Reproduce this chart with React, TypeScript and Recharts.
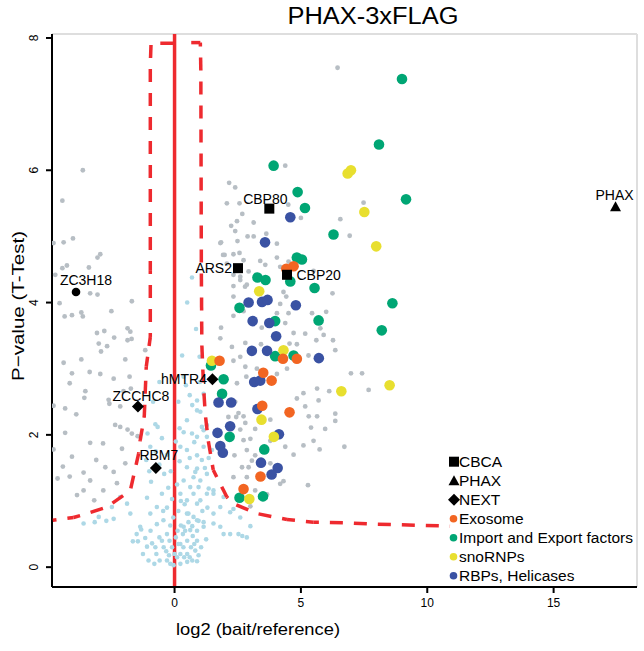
import React from 'react';
import { ComposedChart, Scatter, XAxis, YAxis, ReferenceLine } from 'recharts';

// Colores del gráfico original
const RED = '#ee2a2f';
const GRAY = '#b7bec4';
const LIGHT_BLUE = '#add8e6';
const ORANGE = '#f26522';
const GREEN = '#00a674';
const YELLOW = '#e8df2f';
const BLUE = '#3a52a3';
const FONT = '"Liberation Sans", Arial, Helvetica, sans-serif';

// Ejes
const xDomain = [-4.85, 18.3];
const yDomain = [-0.3, 8.06];
const xTicks = [0, 5, 10, 15];
const yTicks = [0, 2, 4, 6, 8];

// Curvas de corte
const leftCurve = [
  [-0.05, 7.92], [-0.93, 7.92], [-0.96, 7.6], [-0.96, 4.49], [-0.96, 3.48], [-1.12, 3.03],
  [-1.2, 2.27], [-1.36, 1.92], [-1.42, 1.72], [-1.75, 1.16], [-2.67, 0.91], [-3.47, 0.81],
  [-4.0, 0.75], [-4.82, 0.71],
];
const rightCurve = [
  [0.66, 7.93], [1.02, 7.93], [1.04, 7.5], [1.06, 4.5], [1.08, 3.36], [1.14, 2.79],
  [1.21, 2.33], [1.33, 1.92], [1.53, 1.47], [2.07, 1.06], [2.32, 0.96], [3.26, 0.81],
  [4.45, 0.72], [5.49, 0.68], [6.82, 0.67], [8.01, 0.65], [10.9, 0.62],
];

// Proteínas no significativas
const lightBlue = [
  [0.69, 4.38], [0.36, 2.88], [0.99, 3.18], [1.15, 2.62], [0.89, 2.37], [0.49, 2.22],
  [0.36, 2.04], [0.69, 2.02], [0.89, 1.97], [1.28, 2.15], [1.15, 2.07], [0.23, 1.82],
  [0.49, 1.77], [0.78, 1.89], [1.15, 1.82], [0.89, 1.69], [0.49, 1.51], [0.89, 1.49],
  [1.08, 1.62], [0.36, 1.31], [0.75, 1.36], [1.02, 1.31], [1.28, 1.41], [0.23, 1.11],
  [0.49, 1.01], [0.75, 1.11], [1.02, 1.01], [1.28, 1.11], [1.54, 1.16], [0.55, 0.81],
  [0.89, 0.71], [0.36, 0.61], [1.15, 0.61], [1.54, 0.81], [1.81, 0.91],
  [0.89, 2.52], [1.02, 2.35], [1.08, 2.12], [1.28, 1.97], [1.48, 1.77], [0.82, 1.44],
  [0.62, 1.21], [0.95, 1.21], [1.35, 1.19], [1.54, 1.11], [1.94, 1.06], [0.49, 0.81],
  [0.89, 0.96], [0.75, 0.76], [0.62, 0.56], [1.15, 0.68], [1.54, 0.66], [1.81, 0.61],
  [2.2, 0.83], [2.33, 0.88], [1.94, 0.5], [2.2, 0.5], [2.86, 0.45], [2.53, 0.5],
  [2.6, 0.75], [3.0, 0.62], [2.68, 0.47],
  [-0.76, 2.16], [-0.67, 2.12], [-1.07, 2.02], [-0.96, 1.82], [-1.12, 1.62], [-0.41, 1.41],
  [-0.93, 1.29], [-0.5, 1.11], [-1.09, 1.05], [-0.1, 1.03], [-1.88, 0.96], [-2.48, 0.91],
  [-2.15, 1.06], [-3.0, 0.76], [-2.41, 0.73], [-1.75, 0.81], [-0.96, 0.81], [-0.7, 0.91],
  [-0.44, 0.71], [-1.36, 0.61], [-3.6, 0.66], [-3.16, 0.68], [-2.7, 0.7],
  [-1.32, 0.57], [-0.7, 0.65], [-1.16, 0.44], [-1.65, 0.39], [-1.45, 0.39], [-1.09, 0.31],
  [-0.89, 0.36], [-0.76, 0.3], [-0.72, 0.2], [-0.5, 0.4], [-0.43, 0.3], [-0.33, 0.24],
  [-1.03, 0.1], [-0.59, 0.1], [-0.3, 0.1], [-0.17, 0.05], [-0.04, 0.03], [0.23, 0.05],
  [0.5, 0.08], [0.7, 0.1], [0.89, 0.09], [0.23, 0.2], [0.5, 0.2], [0.82, 0.25],
  [0.23, 0.35], [0.5, 0.4], [0.89, 0.4], [0.33, 0.5], [-0.17, 0.63], [0.25, 0.63],
  [0.55, 0.68], [0.89, 0.55], [-0.3, 0.5], [0.05, 0.45], [-0.1, 0.3], [0.1, 0.15],
  [0.65, 0.3], [0.38, 0.15], [-0.22, 0.18], [0.12, 0.55], [0.72, 0.47], [1.05, 0.3],
  [1.25, 0.42], [0.95, 0.18], [-0.45, 0.85], [0.15, 0.85], [0.4, 0.95], [-0.25, 1.2],
  [0.1, 1.25], [-0.6, 1.55], [-0.3, 1.7], [0.05, 1.9], [-0.5, 1.95], [-0.85, 2.5],
  [-0.6, 2.8], [0.6, 2.6], [0.3, 3.2], [0.85, 3.6], [0.5, 4.0], [0.15, 2.5],
  [-1.5, 0.5], [-1.25, 0.2], [-0.95, 0.55], [-0.8, 0.05], [-0.6, 0.45], [-0.2, 0.4],
  [0.0, 0.2], [0.15, 0.35], [0.35, 0.3], [0.6, 0.15], [0.78, 0.35], [0.42, 0.55],
  [0.7, 0.62], [0.95, 0.7], [1.1, 0.85], [1.3, 0.9], [-0.05, 0.75], [-0.3, 0.9],
  [0.25, 1.0], [-0.15, 1.45], [0.2, 1.6], [0.6, 1.65], [1.2, 1.5], [1.35, 1.65],
  [0.7, 2.45], [0.45, 2.75], [1.0, 2.8], [0.2, 2.1], [-0.75, 1.75], [-1.0, 1.45],
];

// Proteínas significativas sin anotar
const gray = [
  [-3.63, 6.0], [-4.44, 5.54], [-4.79, 4.9], [-4.39, 4.91], [-4.02, 4.97], [-2.94, 4.73],
  [-3.05, 4.68], [-4.26, 4.56], [-4.44, 4.52], [-3.39, 4.53], [-4.72, 4.42],
  [-4.55, 3.99], [-4.35, 3.79], [-4.06, 3.81], [-3.69, 3.85], [-3.63, 3.79], [-3.34, 4.14],
  [-3.05, 4.12], [-2.5, 3.87], [-1.69, 4.02], [-3.07, 3.54], [-2.78, 3.57], [-3.0, 3.38],
  [-2.39, 3.47], [-1.86, 3.61], [-1.75, 3.56], [-1.86, 3.43], [-1.7, 3.45], [-1.16, 3.28],
  [-2.91, 3.26], [-2.67, 3.34], [-3.69, 3.14], [-4.39, 3.09], [-1.95, 3.14], [-4.06, 2.93],
  [-4.15, 2.78], [-3.36, 2.95], [-2.94, 2.92], [-2.41, 2.85], [-1.78, 2.88], [-1.73, 2.7],
  [-2.02, 2.66], [-3.53, 2.66], [-3.57, 2.56], [-2.61, 2.53], [-2.58, 2.47], [-2.15, 2.43],
  [-4.79, 2.44], [-4.33, 2.4], [-3.89, 2.31], [-2.35, 2.15], [-1.86, 2.08], [-2.15, 2.12],
  [-1.69, 2.02], [-1.46, 1.98], [-4.33, 2.03], [-3.34, 1.88], [-2.83, 1.87], [-2.08, 1.79],
  [-4.79, 1.78], [-4.06, 1.67], [-4.42, 1.52], [-3.1, 1.62], [-3.6, 1.43], [-2.74, 1.51],
  [-2.41, 1.44], [-1.95, 1.57], [-4.63, 1.34], [-4.15, 1.37], [-3.34, 1.31], [-3.6, 1.16],
  [-3.86, 1.09], [-2.82, 1.16], [-3.18, 1.01], [-2.28, 1.27],
  [2.16, 5.81], [2.4, 5.74], [2.07, 5.5], [2.57, 5.5], [2.68, 5.34], [2.47, 5.23],
  [2.24, 5.16], [2.4, 5.08], [3.13, 5.21], [2.89, 5.0], [3.13, 5.0], [1.84, 4.91],
  [2.49, 4.93], [2.33, 4.73], [2.57, 4.75], [1.98, 4.72], [2.73, 4.64], [2.07, 4.59],
  [2.93, 4.47], [2.33, 4.42], [2.6, 4.39], [4.38, 6.07], [6.45, 7.55], [7.48, 5.51],
  [6.56, 5.26], [6.93, 5.01], [4.5, 5.48], [5.0, 5.28], [3.63, 5.04], [4.05, 4.89],
  [1.81, 4.9], [1.92, 4.72], [3.39, 4.63], [4.05, 4.68], [4.51, 4.62], [3.59, 4.57],
  [4.18, 4.54], [5.5, 4.48], [2.6, 4.34], [2.86, 4.27], [2.33, 4.25], [2.79, 4.24],
  [4.31, 4.16], [4.42, 4.09], [2.33, 4.09], [4.18, 3.98], [6.25, 4.14], [5.44, 3.84],
  [6.0, 3.86], [5.77, 3.61], [5.61, 3.43], [6.27, 3.43], [5.9, 3.51], [5.17, 3.53],
  [4.05, 3.84], [4.51, 3.84], [4.38, 3.69], [4.71, 3.54], [4.55, 3.38], [1.84, 3.62],
  [2.33, 3.8], [2.73, 3.87], [3.45, 3.62], [1.81, 3.46], [2.27, 3.33], [2.8, 3.39],
  [3.42, 3.37], [4.84, 3.37],
  [2.33, 3.12], [2.6, 3.18], [2.8, 3.03], [3.26, 3.0], [2.84, 2.88], [2.47, 2.78],
  [4.45, 3.0], [4.05, 2.92], [5.3, 3.2], [6.36, 3.28], [6.98, 2.93], [7.42, 2.93],
  [7.68, 2.68], [5.64, 2.7], [6.12, 2.66], [4.84, 2.55], [5.1, 2.63], [5.7, 2.52],
  [5.17, 2.43], [6.36, 2.32], [6.36, 2.21], [5.64, 2.28], [5.31, 2.28], [5.96, 2.09],
  [5.4, 2.11], [6.72, 1.82], [5.5, 1.91], [5.74, 1.78], [5.1, 1.84], [4.71, 1.7],
  [4.38, 1.82], [5.28, 1.24], [4.18, 1.26], [4.31, 1.3], [2.86, 1.36], [2.93, 1.51],
  [2.67, 1.51], [2.33, 1.36], [3.06, 1.61], [3.79, 1.57], [3.19, 1.16], [3.66, 1.1],
  [3.0, 0.92], [2.53, 2.33], [2.44, 2.27], [2.73, 2.28], [2.8, 2.18], [2.6, 2.08],
  [2.73, 1.92], [3.0, 1.94], [3.19, 2.09], [2.86, 1.77], [3.19, 1.69], [2.37, 1.69],
  [3.79, 1.91], [2.13, 2.27], [2.4, 2.5], [3.79, 2.23],
];

// Grupos anotados
const importExport = [
  [9.0, 7.38], [8.09, 6.39], [3.92, 6.07], [4.87, 5.67], [9.16, 5.56], [5.16, 5.43],
  [6.29, 5.03], [4.84, 4.68], [5.04, 4.65], [3.28, 4.38], [3.6, 4.34], [4.58, 4.32],
  [5.54, 4.22], [2.57, 3.92], [8.62, 3.99], [5.7, 3.73], [3.98, 3.72], [8.2, 3.58],
  [3.98, 3.19], [4.71, 3.2], [1.44, 3.05], [1.94, 2.84], [1.88, 2.62], [2.18, 1.97],
  [3.55, 1.78], [2.57, 1.05], [3.5, 1.07],
];
const rbps = [
  [4.58, 5.29], [3.58, 4.91], [2.93, 4.0], [3.46, 4.01], [3.68, 4.04], [4.8, 3.96],
  [3.09, 3.72], [3.75, 3.69], [4.02, 3.49], [3.06, 3.27], [3.66, 3.27], [5.71, 3.16],
  [3.15, 2.8], [3.39, 2.82], [1.74, 2.49], [2.24, 2.49], [3.28, 2.39], [2.2, 2.13],
  [1.7, 2.03], [4.13, 2.01], [1.81, 1.83], [1.91, 1.73], [3.42, 1.58], [4.08, 1.5],
  [3.84, 1.4],
];
const snoRNPs = [
  [6.85, 5.95], [6.98, 6.0], [7.51, 5.37], [7.98, 4.85], [3.35, 4.17], [4.31, 3.28],
  [1.48, 3.12], [6.6, 2.66], [8.51, 2.75], [3.44, 2.23], [3.93, 1.97], [2.96, 1.03],
];
const exosome = [
  [4.71, 4.55], [4.42, 4.51], [4.29, 3.15], [4.84, 3.15], [1.78, 3.12], [3.51, 2.94],
  [3.84, 2.82], [3.47, 2.44], [4.55, 2.34], [3.4, 1.37], [2.73, 1.18],
];

// Proteínas con nombre
const cbca = [
  { name: 'CBP80', x: 3.75, y: 5.42 },
  { name: 'ARS2', x: 2.51, y: 4.52 },
  { name: 'CBP20', x: 4.45, y: 4.42 },
];
const phax = [{ name: 'PHAX', x: 17.45, y: 5.45 }];
const nextComplex = [
  { name: 'hMTR4', x: 1.5, y: 2.84 },
  { name: 'ZCCHC8', x: -1.45, y: 2.43 },
  { name: 'RBM7', x: -0.74, y: 1.5 },
];
const otherNamed = [{ name: 'ZC3H18', x: -3.9, y: 4.16 }];

const legendItems = [
  { label: 'CBCA', kind: 'square', color: '#000' },
  { label: 'PHAX', kind: 'triangle', color: '#000' },
  { label: 'NEXT', kind: 'diamond', color: '#000' },
  { label: 'Exosome', kind: 'circle', color: ORANGE },
  { label: 'Import and Export factors', kind: 'circle', color: GREEN },
  { label: 'snoRNPs', kind: 'circle', color: YELLOW },
  { label: 'RBPs, Helicases', kind: 'circle', color: BLUE },
];

// Posición de cada etiqueta respecto a su marcador
const labelPlacement: Record<string, { anchor: string; dx: number; dy: number }> = {
  CBP80: { anchor: 'middle', dx: -4, dy: -4.5 },
  ARS2: { anchor: 'end', dx: -6, dy: 5 },
  CBP20: { anchor: 'start', dx: 9.5, dy: 5.5 },
  PHAX: { anchor: 'middle', dx: -1, dy: -6.5 },
  hMTR4: { anchor: 'end', dx: -5.5, dy: 5 },
  ZCCHC8: { anchor: 'middle', dx: 3, dy: -5.5 },
  RBM7: { anchor: 'middle', dx: 3, dy: -7.5 },
  ZC3H18: { anchor: 'middle', dx: 10, dy: -6.5 },
};

const toPoints = (arr: number[][]) => arr.map(([x, y]) => ({ x, y }));

const dot = (r: number, fill: string) => (props: any) => {
  const { cx, cy } = props;
  if (cx == null || cy == null) return <g />;
  return <circle cx={cx} cy={cy} r={r} fill={fill} />;
};

const symbol = (kind: string, cx: number, cy: number, color = '#000') => {
  if (kind === 'square') return <rect x={cx - 5} y={cy - 5} width={10} height={10} fill={color} />;
  if (kind === 'triangle')
    return <polygon points={`${cx},${cy - 5.5} ${cx - 5.5},${cy + 4.5} ${cx + 5.5},${cy + 4.5}`} fill={color} />;
  if (kind === 'diamond')
    return <polygon points={`${cx},${cy - 6} ${cx + 6},${cy} ${cx},${cy + 6} ${cx - 6},${cy}`} fill={color} />;
  return <circle cx={cx} cy={cy} r={4.3} fill={color} />;
};

const named = (kind: string) => (props: any) => {
  const { cx, cy, payload } = props;
  if (cx == null || cy == null) return <g />;
  const p = labelPlacement[payload.name] || { anchor: 'middle', dx: 0, dy: -7 };
  return (
    <g>
      {symbol(kind, cx, cy)}
      <text
        x={cx + p.dx}
        y={cy + p.dy}
        textAnchor={p.anchor as any}
        fontSize={14}
        fontFamily={FONT}
        fill="#000"
      >
        {payload.name}
      </text>
    </g>
  );
};

// Línea discontinua: guiones trazados a mano sobre los puntos que da Scatter
const DASH = 13;
const GAP = 11;
const makeDashed = (color: string) => (props: any) => {
  const pts = (props.points || []).map((p: any) => ({ x: p.x ?? p.cx, y: p.y ?? p.cy }));
  const segs: number[][] = [];
  let on = true;
  let left = DASH;
  for (let i = 0; i < pts.length - 1; i++) {
    let ax = pts[i].x;
    let ay = pts[i].y;
    const bx = pts[i + 1].x;
    const by = pts[i + 1].y;
    let segLen = Math.hypot(bx - ax, by - ay);
    if (!segLen) continue;
    const ux = (bx - ax) / segLen;
    const uy = (by - ay) / segLen;
    while (segLen > 1e-6) {
      const step = Math.min(left, segLen);
      const nx = ax + ux * step;
      const ny = ay + uy * step;
      if (on) segs.push([ax, ay, nx, ny]);
      ax = nx;
      ay = ny;
      segLen -= step;
      left -= step;
      if (left <= 1e-6) {
        on = !on;
        left = on ? DASH : GAP;
      }
    }
  }
  return (
    <g>
      {segs.map((s, i) => (
        <line key={i} x1={s[0]} y1={s[1]} x2={s[2]} y2={s[3]} stroke={color} strokeWidth={3.5} />
      ))}
    </g>
  );
};

const YTick = (props: any) => {
  const { y, payload } = props;
  const bx = 38;
  return (
    <text
      x={bx}
      y={y}
      transform={`rotate(-90 ${bx} ${y})`}
      textAnchor="middle"
      fontSize={12}
      fontFamily={FONT}
      fill="#000"
    >
      {payload.value}
    </text>
  );
};

const noShape = () => <g />;

export default function App() {
  return (
    <div style={{ position: 'absolute', left: 0, top: 0, width: 644, height: 651, background: '#fff' }}>
      <ComposedChart width={644} height={651} margin={{ top: 34, right: 7, bottom: 0, left: 0 }}>
        <XAxis
          type="number"
          dataKey="x"
          domain={xDomain}
          ticks={xTicks}
          allowDataOverflow
          height={64}
          tickSize={6}
          tickMargin={5}
          axisLine={{ stroke: '#000', strokeWidth: 2 }}
          tickLine={{ stroke: '#000', strokeWidth: 2 }}
          tick={{ fontSize: 12, fill: '#000', fontFamily: FONT }}
        />
        <YAxis
          type="number"
          dataKey="y"
          domain={yDomain}
          ticks={yTicks}
          allowDataOverflow
          width={52}
          tickSize={6}
          axisLine={{ stroke: '#000', strokeWidth: 2 }}
          tickLine={{ stroke: '#000', strokeWidth: 2 }}
          tick={<YTick />}
        />
        <ReferenceLine y={yDomain[1]} stroke="#dedede" strokeWidth={2} />
        <ReferenceLine x={xDomain[1]} stroke="#dedede" strokeWidth={2} />
        <Scatter data={toPoints(lightBlue)} shape={dot(2.3, LIGHT_BLUE)} isAnimationActive={false} />
        <Scatter data={toPoints(gray)} shape={dot(2.4, GRAY)} isAnimationActive={false} />
        <Scatter data={toPoints(importExport)} shape={dot(5.3, GREEN)} isAnimationActive={false} />
        <Scatter data={toPoints(rbps)} shape={dot(5.3, BLUE)} isAnimationActive={false} />
        <Scatter data={toPoints(snoRNPs)} shape={dot(5.3, YELLOW)} isAnimationActive={false} />
        <Scatter data={toPoints(exosome)} shape={dot(5.3, ORANGE)} isAnimationActive={false} />
        <ReferenceLine x={0} stroke={RED} strokeWidth={3.5} />
        <Scatter
          data={toPoints(leftCurve)}
          line={makeDashed(RED)}
          lineType="joint"
          shape={noShape}
          isAnimationActive={false}
        />
        <Scatter
          data={toPoints(rightCurve)}
          line={makeDashed(RED)}
          lineType="joint"
          shape={noShape}
          isAnimationActive={false}
        />
        <Scatter data={cbca} shape={named('square')} isAnimationActive={false} />
        <Scatter data={phax} shape={named('triangle')} isAnimationActive={false} />
        <Scatter data={nextComplex} shape={named('diamond')} isAnimationActive={false} />
        <Scatter data={otherNamed} shape={named('circle')} isAnimationActive={false} />
      </ComposedChart>
      <svg
        width={644}
        height={651}
        style={{ position: 'absolute', left: 0, top: 0, pointerEvents: 'none' }}
        fontFamily={FONT}
      >
        <text x={373} y={24} textAnchor="middle" fontSize={23} textLength={171} lengthAdjust="spacingAndGlyphs">
          PHAX-3xFLAG
        </text>
        <text x={258} y={635} textAnchor="middle" fontSize={17} textLength={164} lengthAdjust="spacingAndGlyphs">
          log2 (bait/reference)
        </text>
        <text
          x={24}
          y={306}
          transform="rotate(-90 24 306)"
          textAnchor="middle"
          fontSize={17}
          textLength={150}
          lengthAdjust="spacingAndGlyphs"
        >
          P−value (T-Test)
        </text>
        {legendItems.map((item, i) => {
          const cy = 461.7 + i * 19;
          return (
            <g key={item.label}>
              {item.kind === 'circle' ? (
                <circle cx={453.5} cy={cy} r={3.8} fill={item.color} />
              ) : (
                symbol(item.kind, 454, cy)
              )}
              <text x={459} y={cy + 5.3} fontSize={15.5} fill="#000">
                {item.label}
              </text>
            </g>
          );
        })}
      </svg>
    </div>
  );
}
